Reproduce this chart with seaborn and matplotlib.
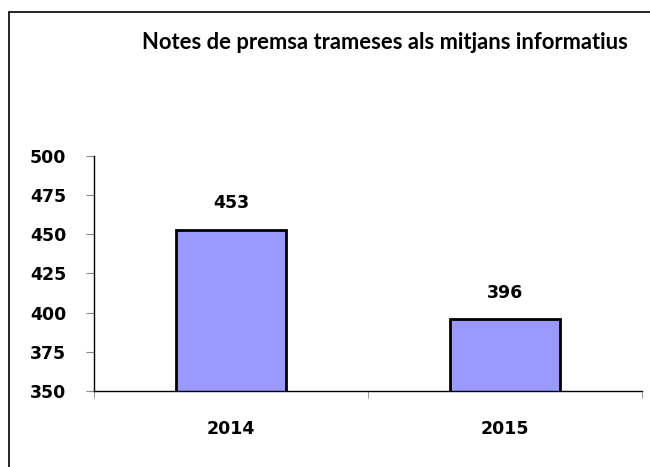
import matplotlib
matplotlib.use("Agg")
import matplotlib.pyplot as plt
import seaborn as sns
import pandas as pd
from matplotlib.lines import Line2D

years = ["2014", "2015"]
values = [453, 396]
yticks = [350, 375, 400, 425, 450, 475, 500]
title = "Notes de premsa trameses als mitjans informatius"

sns.set_style("white")
plt.rcParams['font.family'] = ['DejaVu Sans']
plt.rcParams['text.color'] = 'black'
plt.rcParams['xtick.color'] = 'black'
plt.rcParams['ytick.color'] = 'black'
plt.rcParams['xtick.labelcolor'] = 'black'
plt.rcParams['ytick.labelcolor'] = 'black'

df = pd.DataFrame({"year": years, "value": values})

fig = plt.figure(figsize=(6.5, 4.67), dpi=100)
ax = fig.add_axes([0.1446, 0.1627, 0.8431, 0.5033])

sns.barplot(data=df, x="year", y="value", color="#9999FF", edgecolor="black",
            linewidth=2, width=0.4, saturation=1, ax=ax)

ax.set_ylim(350, 500)
ax.set_xlim(-0.5, 1.5)
ax.set_yticks(yticks)
ax.set_yticklabels([str(t) for t in yticks], fontsize=12.5, fontweight="bold", color="black")
ax.set_xticks(range(len(years)))
ax.set_xticklabels(years, fontsize=12.5, fontweight="bold", color="black")
ax.set_xticks([-0.5, 0.5, 1.5], minor=True)
ax.tick_params(axis="x", which="major", length=0, pad=21)
ax.tick_params(axis="x", which="minor", length=5, color="#888888", direction="out", bottom=True)
ax.tick_params(axis="y", which="major", length=6, color="#888888", direction="out", left=True, pad=14)
ax.set_xlabel("")
ax.set_ylabel("")
for s in ["top", "right"]:
    ax.spines[s].set_visible(False)
for s in ["left", "bottom"]:
    ax.spines[s].set_color("black")
    ax.spines[s].set_linewidth(1)

for i, v in enumerate(values):
    ax.annotate(str(v), (i, v), xytext=(0, 19), textcoords="offset points",
                ha="center", va="center", fontsize=12.5, fontweight="bold", color="black")

fig.text(0.592, 0.91, title, ha="center", va="center", fontsize=15.8,
         fontweight="bold", color="black", family=["Lato", "DejaVu Sans"])

fig.add_artist(Line2D([0.0138, 0.0138], [0, 1 - 12 / 467], color="black", lw=1.2,
                      transform=fig.transFigure))
fig.add_artist(Line2D([0.0138, 1.0], [1 - 12 / 467, 1 - 12 / 467], color="black", lw=1.2,
                      transform=fig.transFigure))

fig.savefig("out.png", dpi=100, facecolor="white")
